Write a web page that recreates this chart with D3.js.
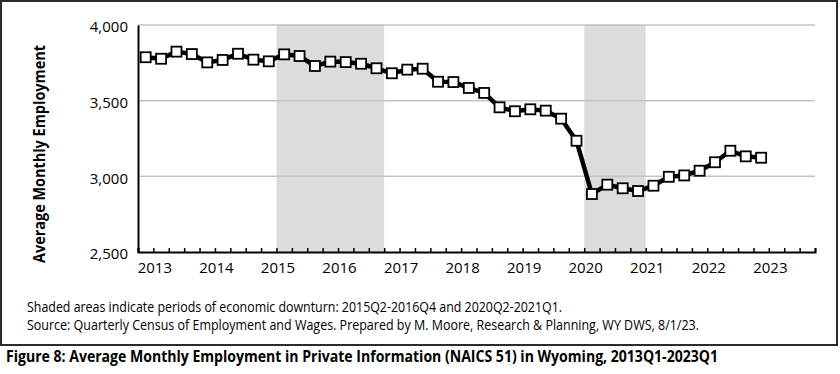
<!DOCTYPE html>
<html>
<head>
<meta charset="utf-8">
<script src="https://cdn.jsdelivr.net/npm/d3@7"></script>
<style>
  html, body { margin: 0; padding: 0; background: #fff; }
  svg { display: block; }
  text { font-family: "Open Sans", "Noto Sans", sans-serif; fill: #000; }
</style>
</head>
<body>
<svg id="chart" width="840" height="374"></svg>
<script>
// ---- data ----
const quarters = ["2013Q1","2013Q2","2013Q3","2013Q4","2014Q1","2014Q2","2014Q3","2014Q4",
  "2015Q1","2015Q2","2015Q3","2015Q4","2016Q1","2016Q2","2016Q3","2016Q4",
  "2017Q1","2017Q2","2017Q3","2017Q4","2018Q1","2018Q2","2018Q3","2018Q4",
  "2019Q1","2019Q2","2019Q3","2019Q4","2020Q1","2020Q2","2020Q3","2020Q4",
  "2021Q1","2021Q2","2021Q3","2021Q4","2022Q1","2022Q2","2022Q3","2022Q4","2023Q1"];
const employment = [3787,3777,3824,3808,3753,3769,3810,3771,
  3760,3806,3795,3729,3758,3755,3744,3714,
  3681,3705,3711,3625,3623,3584,3551,3456,
  3430,3443,3434,3381,3235,2883,2945,2921,
  2903,2938,2997,3006,3037,3093,3169,3132,3123];
const yearLabels = ["2013","2014","2015","2016","2017","2018","2019","2020","2021","2022","2023"];
const yTicks = [2500, 3000, 3500, 4000];
const downturns = [["2015Q2","2016Q4"], ["2020Q2","2021Q1"]];
const axisQuarterCount = 44; // 2013Q1 .. 2023Q4
const yAxisTitle = "Average Monthly Employment";
const note1 = "Shaded areas indicate periods of economic downturn: 2015Q2-2016Q4 and 2020Q2-2021Q1.";
const note2 = "Source: Quarterly Census of Employment and Wages. Prepared by M. Moore, Research & Planning, WY DWS, 8/1/23.";
const figTitle = "Figure 8: Average Monthly Employment in Private Information (NAICS 51) in Wyoming, 2013Q1-2023Q1";

// ---- layout ----
const svg = d3.select("#chart");
const L = 138, R = 815, T = 25, B = 252;

const x = d3.scaleLinear().domain([0, axisQuarterCount]).range([L, R]);
const y = d3.scaleLinear().domain([2500, 4000]).range([B, T]);
const qIndex = q => quarters.indexOf(q);

// frame
svg.append("rect").attr("x", 1).attr("y", 1).attr("width", 836).attr("height", 344)
  .attr("fill", "#fff").attr("stroke", "#2b2b2b").attr("stroke-width", 2);

// shaded downturns
svg.append("g").selectAll("rect").data(downturns).join("rect")
  .attr("x", d => x(qIndex(d[0])))
  .attr("width", d => x(qIndex(d[1]) + 1) - x(qIndex(d[0])))
  .attr("y", T).attr("height", B - T)
  .attr("fill", "#dbdcde");

// gridlines
svg.append("g").selectAll("line").data(yTicks.filter(v => v > 2500)).join("line")
  .attr("x1", L).attr("x2", R)
  .attr("y1", d => y(d)).attr("y2", d => y(d))
  .attr("stroke", "#c3c3c3").attr("stroke-width", 1.5);

// y axis
const yAxis = svg.append("g").attr("transform", `translate(${L},0)`)
  .call(d3.axisLeft(y).tickValues(yTicks).tickFormat(d3.format(",")).tickSize(0).tickPadding(10));
yAxis.select(".domain").attr("stroke", "#000").attr("stroke-width", 2);
yAxis.selectAll("text").attr("font-size", 15).attr("dy", "0.45em")
  .style("font-family", '"Open Sans", sans-serif');

// x axis (quarter ticks pointing up)
const xAxis = svg.append("g").attr("transform", `translate(0,${B})`)
  .call(d3.axisBottom(x).tickValues(d3.range(0, axisQuarterCount + 1)).tickSize(-4).tickFormat(""));
xAxis.select(".domain").attr("stroke", "#000").attr("stroke-width", 2);
xAxis.selectAll(".tick line").attr("stroke", "#000").attr("stroke-width", 1.5);

svg.append("g").selectAll("text").data(yearLabels).join("text")
  .attr("x", (d, i) => x(i * 4 + 1) + 1.5)
  .attr("y", 273)
  .attr("text-anchor", "middle")
  .attr("font-size", 15)
  .text(d => d);

// line
const line = d3.line().x((d, i) => x(i + 0.5)).y(d => y(d));
svg.append("path").datum(employment)
  .attr("d", line).attr("fill", "none")
  .attr("stroke", "#000").attr("stroke-width", 4.5).attr("stroke-linejoin", "round");

// markers
svg.append("g").selectAll("rect").data(employment).join("rect")
  .attr("x", (d, i) => x(i + 0.5) - 5)
  .attr("y", d => y(d) - 5)
  .attr("width", 10).attr("height", 10)
  .attr("fill", "#fff").attr("stroke", "#000").attr("stroke-width", 1.8);

// y axis title
svg.append("text")
  .attr("transform", "translate(45,154) rotate(-90)")
  .attr("text-anchor", "middle")
  .attr("font-size", 16).attr("font-weight", "bold")
  .attr("textLength", 218).attr("lengthAdjust", "spacingAndGlyphs")
  .text(yAxisTitle);

// notes
svg.append("text").attr("x", 27).attr("y", 312).attr("font-size", 14.5)
  .attr("textLength", 535).attr("lengthAdjust", "spacingAndGlyphs").text(note1);
svg.append("text").attr("x", 27).attr("y", 330).attr("font-size", 14.5)
  .attr("textLength", 672).attr("lengthAdjust", "spacingAndGlyphs").text(note2);

// figure title
svg.append("text").attr("x", 6).attr("y", 362).attr("font-size", 16).attr("font-weight", "bold")
  .attr("textLength", 712).attr("lengthAdjust", "spacingAndGlyphs").text(figTitle);
</script>
</body>
</html>
